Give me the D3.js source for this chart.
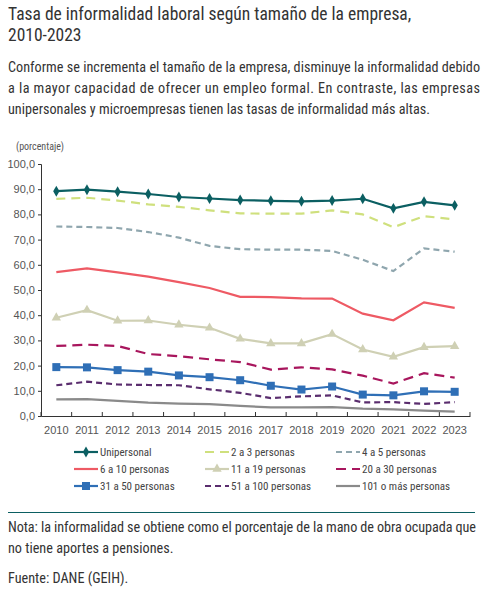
<!DOCTYPE html>
<html><head><meta charset="utf-8">
<script src="https://cdn.jsdelivr.net/npm/d3@7"></script>
<style>
body{margin:0;background:#fff;font-family:"Liberation Sans Narrow","Roboto Condensed","Liberation Sans",sans-serif;color:#333}
</style></head><body>
<svg id="c" width="491" height="611"></svg>
<script>
var years = [2010,2011,2012,2013,2014,2015,2016,2017,2018,2019,2020,2021,2022,2023];
var yTicks = [0,10,20,30,40,50,60,70,80,90,100];
var names = ['Unipersonal','2 a 3 personas','4 a 5 personas','6 a 10 personas','11 a 19 personas','20 a 30 personas','31 a 50 personas','51 a 100 personas','101 o más personas'];
var unipersonal = [89.2,89.8,89.0,88.1,86.9,86.3,85.7,85.4,85.2,85.5,86.2,82.4,85.0,83.6];
var p2a3 = [86.2,86.6,85.5,84.0,83.0,81.6,80.4,80.3,80.3,81.6,80.0,74.9,79.3,78.0];
var p4a5 = [75.2,75.0,74.6,73.0,70.8,67.5,66.2,66.0,66.0,65.5,62.0,57.5,66.5,65.2];
var p6a10 = [57.1,58.6,57.0,55.3,53.1,50.8,47.3,47.2,46.7,46.6,40.6,38.0,45.1,42.9];
var p11a19 = [39.0,42.0,37.8,37.9,36.2,35.0,30.6,28.8,28.8,32.5,26.4,23.5,27.3,27.7];
var p20a30 = [27.8,28.3,27.8,24.6,23.7,22.5,21.4,18.4,19.3,18.5,16.0,12.9,17.0,15.2];
var p31a50 = [19.4,19.3,18.2,17.6,16.1,15.4,14.2,12.0,10.5,11.7,8.5,8.2,9.8,9.6];
var p51a100 = [12.2,13.6,12.5,12.3,12.2,10.6,9.2,7.1,7.8,8.2,5.4,5.5,4.8,5.5];
var p101 = [6.6,6.7,6.0,5.3,4.9,4.7,4.0,3.4,3.4,3.5,2.9,2.6,2.1,1.7];
var series = [unipersonal,p2a3,p4a5,p6a10,p11a19,p20a30,p31a50,p51a100,p101];
var colors = ['#0b5f62','#cfe07d','#8fa6ae','#ee5a64','#cfd0b4','#a8165d','#2f6fb6','#5a2d6e','#8a8a8a'];
var dashes = [null,'9,6','6,4',null,null,'10,6',null,'6,4',null];
var markers = ['diamond',null,null,null,'triangle',null,'square',null,null];

var svg = d3.select('#c');
var teal = '#0b5f62';
svg.append('text').attr('x',8).attr('y',20).attr('font-size',17.5).attr('fill','#333').text('Tasa de informalidad laboral según tamaño de la empresa,');
svg.append('text').attr('x',8).attr('y',41).attr('font-size',17.5).attr('fill','#333').text('2010-2023');
var para = ['Conforme se incrementa el tamaño de la empresa, disminuye la informalidad debido',
 'a la mayor capacidad de ofrecer un empleo formal. En contraste, las empresas',
 'unipersonales y microempresas tienen las tasas de informalidad más altas.'];
para.forEach(function(t,i){
  svg.append('text').attr('x',8).attr('y',72+i*21).attr('font-size',14.2).attr('fill','#333')
    .attr('textLength',i<2?472:null).attr('lengthAdjust','spacing').text(t);
});

var x = d3.scaleBand().domain(years).range([41,470]);
var y = d3.scaleLinear().domain([0,100]).range([416,164]);
svg.append('text').attr('x',16).attr('y',150).attr('font-size',10).attr('fill','#555').text('(porcentaje)');

var ya = svg.append('g').attr('transform','translate(41,0)')
  .call(d3.axisLeft(y).tickValues(yTicks).tickSize(3).tickFormat(function(d){return d.toFixed(1).replace('.',',');}));
var xa = svg.append('g').attr('transform','translate(0,416)')
  .call(d3.axisBottom(x).tickSize(0).tickPadding(10));
xa.selectAll('.tick').append('line').attr('x1',x.bandwidth()/2).attr('x2',x.bandwidth()/2).attr('y1',0).attr('y2',-4).attr('stroke','#333');
svg.append('line').attr('x1',41).attr('x2',41).attr('y1',416).attr('y2',412).attr('stroke','#333');
[ya,xa].forEach(function(a){
  a.select('.domain').attr('stroke','#333');
  a.selectAll('text').attr('font-size',11).attr('fill','#555').attr('font-family','inherit');
});
ya.selectAll('.tick line').attr('stroke','#333');

var line = d3.line().x(function(d,i){return x(years[i])+x.bandwidth()/2;}).y(function(d){return y(d);});
function marker(g,type,cx,cy,c,s){
  if(type==='diamond') g.append('path').attr('d',d3.symbol(d3.symbolDiamond,34)()).attr('transform','translate('+cx+','+cy+')').attr('fill',c);
  if(type==='triangle') g.append('path').attr('d',d3.symbol(d3.symbolTriangle,38)()).attr('transform','translate('+cx+','+cy+')').attr('fill',c);
  if(type==='square') g.append('rect').attr('x',cx-4).attr('y',cy-4).attr('width',8).attr('height',8).attr('fill',c);
}
series.slice().reverse().forEach(function(s,ri){
  var k = series.length-1-ri;
  var g = svg.append('g');
  g.append('path').datum(s).attr('d',line).attr('fill','none').attr('stroke',colors[k])
    .attr('stroke-width',2.2).attr('stroke-dasharray',dashes[k]);
  if(markers[k]) s.forEach(function(v,i){marker(g,markers[k],x(years[i])+x.bandwidth()/2,y(v),colors[k]);});
});

// legend
names.forEach(function(n,i){
  var lx = 74 + (i%3)*131, ly = 452 + Math.floor(i/3)*17;
  var g = svg.append('g');
  g.append('line').attr('x1',lx).attr('x2',lx+24).attr('y1',ly).attr('y2',ly).attr('stroke',colors[i]).attr('stroke-width',2.2).attr('stroke-dasharray',dashes[i]);
  if(markers[i]) marker(g,markers[i],lx+12,ly,colors[i]);
  g.append('text').attr('x',lx+26).attr('y',ly+4).attr('font-size',11).attr('fill','#444').text(n);
});

svg.append('line').attr('x1',8).attr('x2',475).attr('y1',512.5).attr('y2',512.5).attr('stroke',teal).attr('stroke-width',1.2);
svg.append('text').attr('x',8).attr('y',532).attr('font-size',14.2).attr('fill','#333').attr('textLength',468).attr('lengthAdjust','spacing').text('Nota: la informalidad se obtiene como el porcentaje de la mano de obra ocupada que');
svg.append('text').attr('x',8).attr('y',553).attr('font-size',14.2).attr('fill','#333').text('no tiene aportes a pensiones.');
svg.append('text').attr('x',8).attr('y',583).attr('font-size',14.2).attr('fill','#333').text('Fuente: DANE (GEIH).');
</script></body></html>
